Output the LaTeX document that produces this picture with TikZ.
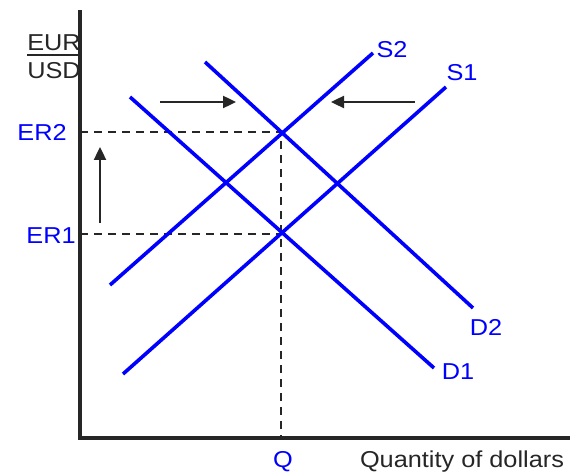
\documentclass[tikz,border=0pt]{standalone}
\usepackage{fontspec}
\setmainfont{Liberation Sans}
\newfontfamily\lblfont[FakeStretch=1.1]{Liberation Sans}
\usetikzlibrary{positioning, arrows.meta}

\begin{document}
\begin{tikzpicture}[x=1pt, y=-1pt,
    curve/.style={blue, line width=3.6pt},
    guide/.style={black!85, line width=2.4pt, dash pattern=on 8pt off 6pt},
    shiftarrow/.style={black!85, line width=2.4pt, -{Triangle[length=13pt,width=12pt]}},
    lbl/.style={text=blue, font=\lblfont\fontsize{23}{25}\selectfont, inner sep=0pt},
    axlbl/.style={text=black!85, font=\lblfont\fontsize{23}{25}\selectfont, inner sep=0pt}]
    \useasboundingbox (0,0) rectangle (572,473);

    % Axes
    \coordinate (top) at (80,10);
    \coordinate (origin) at (80,438);
    \coordinate (right) at (570,438);
    \draw[black!85, line width=4.2pt, line join=miter] (top) -- (origin) -- (right);

    % Curve end points
    \coordinate (s1a) at (123,374);  \coordinate (s1b) at (446,87);
    \coordinate (s2a) at (110,285);  \coordinate (s2b) at (373,53);
    \coordinate (d1a) at (130,97);   \coordinate (d1b) at (434,368);
    \coordinate (d2a) at (205,62);   \coordinate (d2b) at (473,308);

    % Equilibria
    \coordinate (eq2) at (281,132);
    \coordinate (eq1) at (281,234);
    \coordinate (er2) at (80,132);
    \coordinate (er1) at (80,234);
    \coordinate (q) at (281,438);

    % Dashed guides
    \draw[guide] (er2) -- (eq2) -- (q);
    \draw[guide] (er1) -- (eq1);

    % Supply and demand
    \draw[curve] (s1a) -- (s1b);
    \draw[curve] (s2a) -- (s2b);
    \draw[curve] (d1a) -- (d1b);
    \draw[curve] (d2a) -- (d2b);

    % Curve labels
    \node[lbl] (S1) at (462,73) {S1};
    \node[lbl] (S2) at (392,50) {S2};
    \node[lbl] (D1) at (458,372) {D1};
    \node[lbl] (D2) at (486,327) {D2};

    % Axis labels
    \node[lbl] (ER2) at (42,132) {ER2};
    \node[lbl] (ER1) at (51,236) {ER1};
    \node[lbl] (Q) at (283,462) {Q};
    \node[axlbl] (qty) at (462,462) {Quantity of dollars};
    \node[axlbl] (eur) at (54,43) {EUR};
    \node[axlbl] (usd) at (54,71) {USD};
    \draw[black!85, line width=2pt] ([yshift=-4pt]eur.south west) -- ([yshift=-4pt]eur.south east);

    % Shift arrows
    \coordinate (ra) at (160,102);  \coordinate (rb) at (236,102);
    \coordinate (la) at (415,102);  \coordinate (lb) at (331,102);
    \coordinate (ua) at (100,223);  \coordinate (ub) at (100,147);
    \draw[shiftarrow] (ra) -- (rb);
    \draw[shiftarrow] (la) -- (lb);
    \draw[shiftarrow] (ua) -- (ub);
\end{tikzpicture}
\end{document}
